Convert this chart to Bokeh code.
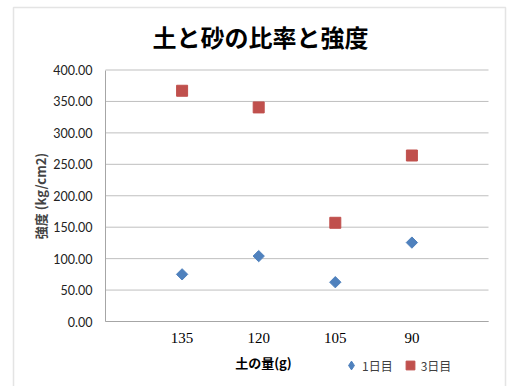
from bokeh.plotting import figure
from bokeh.models import (Range1d, FixedTicker, NumeralTickFormatter, LinearAxis,
                          Legend, LegendItem, Label, BoxAnnotation)
from bokeh.embed import file_html
from bokeh.resources import INLINE
import numpy as np

# soil amount (g) per sample and measured strength (kg/cm2)
soil_labels = ["135", "120", "105", "90"]
positions = [1, 2, 3, 4]
day1 = [75.0, 104.0, 62.5, 125.5]
day3 = [367.0, 340.5, 157.0, 264.0]
strength_ticks = [0, 50, 100, 150, 200, 250, 300, 350, 400]

JP = "Noto Sans CJK JP"
W, H = 514, 386
BLUE, RED = "#4F81BD", "#C0504D"

# the frame covers the whole canvas; the axes sit at fixed data locations inside it
p = figure(width=W, height=H, output_backend="svg", toolbar_location=None, title=None,
           x_range=Range1d(-1.3708, 5.3394), y_range=Range1d(-103.38, 510.54),
           x_axis_type=None, y_axis_type=None,
           min_border_left=0, min_border_right=0, min_border_top=0, min_border_bottom=0)
p.background_fill_color = "white"
p.border_fill_color = "white"
p.outline_line_color = None
p.grid.visible = False

# horizontal grid lines across the plot area
p.segment(x0=0, x1=5, y0=strength_ticks, y1=strength_ticks,
          line_color="#bfbfbf", line_width=1)

yaxis = LinearAxis(fixed_location=0, bounds=(0, 400),
                   ticker=FixedTicker(ticks=strength_ticks),
                   formatter=NumeralTickFormatter(format="0.00"))
yaxis.major_tick_out = 0
yaxis.major_tick_in = 0
yaxis.minor_tick_line_color = None
yaxis.axis_line_color = "#a6a6a6"
yaxis.major_label_text_font = "Lato"
yaxis.major_label_text_font_size = "12.5px"
yaxis.major_label_text_color = "#222222"
yaxis.major_label_standoff = 13
yaxis.axis_label = "強度 (kg/cm2)"
yaxis.axis_label_text_font = JP
yaxis.axis_label_text_font_size = "13px"
yaxis.axis_label_text_font_style = "bold"
yaxis.axis_label_standoff = 0
p.add_layout(yaxis, "left")

xaxis = LinearAxis(fixed_location=0, bounds=(0, 5), ticker=FixedTicker(ticks=positions))
xaxis.major_label_overrides = {pos: lab for pos, lab in zip(positions, soil_labels)}
xaxis.major_tick_out = 0
xaxis.major_tick_in = 0
xaxis.minor_tick_line_color = None
xaxis.axis_line_color = "#a6a6a6"
xaxis.major_label_text_font = "Liberation Serif"
xaxis.major_label_text_font_size = "15px"
xaxis.major_label_text_color = "black"
xaxis.major_label_standoff = 11
p.add_layout(xaxis, "below")

# day-1 points drawn as diamonds (squares turned 45 degrees)
r1 = p.scatter(positions, day1, marker="square", angle=np.pi / 4, size=8,
               color=BLUE, line_color=BLUE)
r3 = p.scatter(positions, day3, marker="square", size=11,
               color=RED, line_color=RED)
# hidden diamond renderer of the same series, used only for its legend key
key1 = p.scatter(positions, day1, marker="diamond", size=10, color=BLUE, line_color=BLUE,
                 visible=False)

title = Label(x=260, y=H - 36, x_units="screen", y_units="screen", text="土と砂の比率と強度",
              text_font=JP, text_font_size="24px", text_font_style="bold",
              text_align="center", text_baseline="middle", text_color="black")
p.add_layout(title)

x_title = Label(x=263, y=H - 362, x_units="screen", y_units="screen", text="土の量(g)",
                text_font=JP, text_font_size="13px", text_font_style="bold",
                text_align="center", text_baseline="middle", text_color="black")
p.add_layout(x_title)

legend = Legend(items=[LegendItem(label="1日目", renderers=[key1]),
                       LegendItem(label="3日目", renderers=[r3])],
                orientation="horizontal", location=(340, 10))
legend.label_text_font = JP
legend.label_text_font_size = "12px"
legend.label_text_color = "#404040"
legend.border_line_color = None
legend.background_fill_alpha = 0
legend.inactive_fill_alpha = 0
legend.padding = 0
legend.margin = 0
legend.spacing = 6
legend.glyph_width = 22
legend.glyph_height = 22
legend.label_standoff = -4
p.add_layout(legend, "center")

# chart area border
border = BoxAnnotation(left=13, right=505, top=H - 7, bottom=-10,
                       left_units="screen", right_units="screen",
                       top_units="screen", bottom_units="screen",
                       fill_alpha=0, line_color="#a6a6a6", line_width=1.5)
p.add_layout(border)

open("out.html", "w").write(file_html(p, INLINE))
